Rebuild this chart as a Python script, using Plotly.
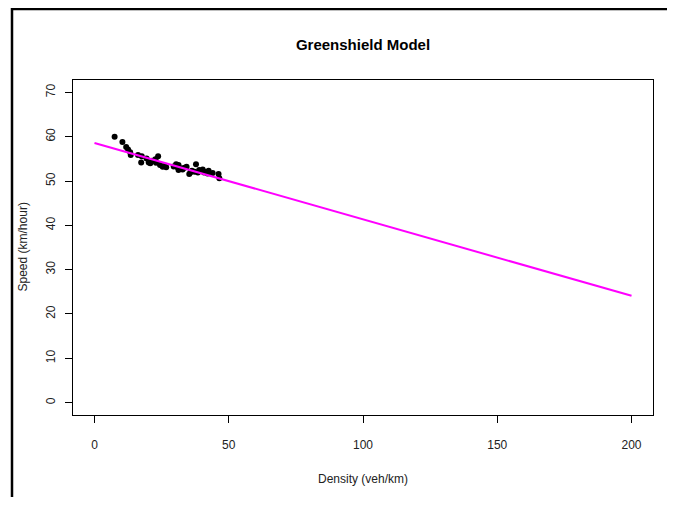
import plotly.graph_objects as go

# Observed data (density veh/km, speed km/hour)
density = [7.5, 10.4, 11.8, 12.5, 13.3, 13.5, 16.2, 17.6, 17.4, 19.4,
           20.2, 20.8, 22.7, 23.7, 22.9, 24.4, 25.4, 26.7, 30.4, 31.3,
           30.9, 32.2, 31.3, 34.3, 35.3, 36.3, 37.8, 39.0, 40.3, 41.0,
           42.1, 42.5, 46.2, 46.5, 37.3, 26.0, 32.8, 33.5, 38.5, 44.0,
           29.5, 21.5, 40.8, 35.8]
speed = [60.0, 58.8, 57.7, 57.1, 56.5, 55.9, 55.9, 55.6, 54.2, 55.1,
         54.2, 54.0, 54.9, 55.6, 54.1, 53.6, 53.2, 53.1, 53.8, 53.6,
         53.1, 52.9, 52.5, 53.2, 51.6, 52.3, 53.8, 52.5, 52.6, 52.1,
         51.7, 52.3, 51.6, 50.6, 52.1, 53.4, 52.6, 53.0, 51.9, 51.8,
         53.3, 54.6, 51.9, 52.0]

# Fitted Greenshield line end points
line_density = [0, 200]
line_speed = [58.6, 24.1]

x_ticks = [0, 50, 100, 150, 200]
y_ticks = [0, 10, 20, 30, 40, 50, 60, 70]

# page body has an 8px margin: work in window pixels, convert to figure pixels
OFF = 8
W, H = 675 - 2 * OFF, 505 - 2 * OFF
L, T = 73 - OFF, 80 - OFF
pw, ph = 580, 335
R = W - L - pw
B = H - T - ph

def px(x):
    return (x - OFF - L) / pw

def py(y):
    return (T + ph - (y - OFF)) / ph

fig = go.Figure()
fig.add_trace(go.Scatter(x=density, y=speed, mode="markers",
                         marker=dict(color="black", size=6, line=dict(width=0)),
                         showlegend=False, hoverinfo="skip"))
fig.add_trace(go.Scatter(x=line_density, y=line_speed, mode="lines",
                         line=dict(color="#FF00FF", width=2),
                         showlegend=False, hoverinfo="skip"))

axis_common = dict(showgrid=False, zeroline=False, showline=True, mirror=True,
                   linecolor="black", linewidth=1, ticks="outside", ticklen=7,
                   tickcolor="black", tickwidth=1,
                   tickfont=dict(family="Liberation Sans, Arial", size=12, color="#222"))

fig.update_layout(
    width=W, height=H,
    margin=dict(l=L, r=R, t=T, b=B, pad=0),
    paper_bgcolor="white", plot_bgcolor="white",
    xaxis=dict(range=[-8, 208], tickvals=x_ticks, ticklabelstandoff=12, **axis_common),
    yaxis=dict(range=[-2.8, 72.8], tickvals=y_ticks, tickangle=-90, ticklabelstandoff=5, **axis_common),
    title=dict(text="<b>Greenshield Model</b>", x=px(363), xref="paper", xanchor="center",
               y=1 - (45 - OFF) / H, yref="container", yanchor="middle",
               font=dict(family="Liberation Sans, Arial", size=15, color="black")),
    annotations=[
        dict(text="Density (veh/km)", x=0.5, y=py(479), xref="paper", yref="paper",
             showarrow=False, xanchor="center", yanchor="middle",
             font=dict(family="Liberation Sans, Arial", size=12, color="#222")),
        dict(text="Speed (km/hour)", x=px(22), y=0.5, xref="paper", yref="paper",
             showarrow=False, xanchor="center", yanchor="middle", textangle=-90,
             font=dict(family="Liberation Sans, Arial", size=12, color="#222")),
    ],
    shapes=[
        dict(type="line", xref="paper", yref="paper", x0=px(12), x1=px(12),
             y0=py(8), y1=py(OFF + H), line=dict(color="black", width=2.5)),
        dict(type="line", xref="paper", yref="paper", x0=px(11), x1=px(OFF + W),
             y0=py(9), y1=py(9), line=dict(color="black", width=2.5)),
    ],
)

fig.write_html("out.html", config={"displayModeBar": False})
